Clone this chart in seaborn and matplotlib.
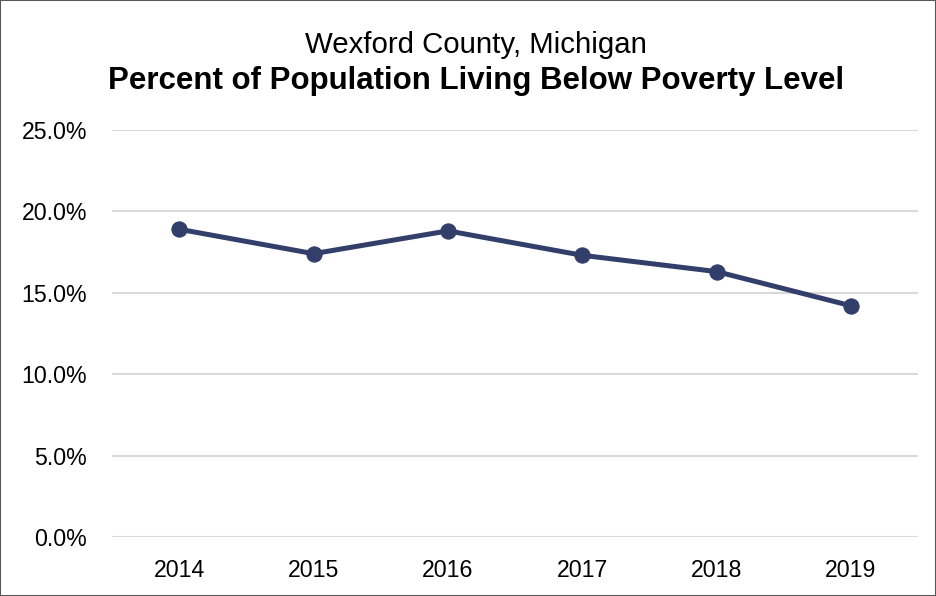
import pandas as pd
import seaborn as sns
from matplotlib import pyplot as plt
from matplotlib.patches import Rectangle
from matplotlib.ticker import PercentFormatter

years = ['2014', '2015', '2016', '2017', '2018', '2019']
poverty = [18.9, 17.4, 18.8, 17.3, 16.3, 14.2]
y_ticks = [0, 5, 10, 15, 20, 25]

df = pd.DataFrame({'year': years, 'poverty': poverty})

sns.set_style('white')
plt.rcParams['font.family'] = ['Liberation Sans', 'DejaVu Sans']
plt.rcParams['text.color'] = 'black'

fig = plt.figure(figsize=(9.36, 5.96), dpi=100)
ax = fig.add_axes([0.1197, 0.099, 0.8613, 0.683])

navy = '#323F6B'
sns.lineplot(data=df, x='year', y='poverty', ax=ax, color=navy, linewidth=3.6,
             marker='o', markersize=11, markeredgecolor=navy, sort=False)

ax.set_ylim(0, 25)
ax.set_xlim(-0.5, 5.5)
ax.set_yticks(y_ticks)
ax.yaxis.set_major_formatter(PercentFormatter(decimals=1))
ax.grid(axis='y', color='#D9D9D9', linewidth=1.5)
ax.set_axisbelow(True)
for s in ax.spines.values():
    s.set_visible(False)
ax.tick_params(axis='both', length=0, labelsize=16.7, colors='black')
ax.tick_params(axis='x', pad=16)
ax.tick_params(axis='y', pad=18)
ax.set_xlabel('')
ax.set_ylabel('')

# titles sit a little right of the figure centre, as in the original
cx = 476 / 936
fig.text(cx, 1 - 45 / 596, 'Wexford County, Michigan', ha='center', va='center',
         fontsize=21.2, color='black')
fig.text(cx, 1 - 81 / 596, 'Percent of Population Living Below Poverty Level',
         ha='center', va='center', fontsize=22.5, fontweight='bold', color='black')

fig.patches.append(Rectangle((0, 0), 1, 1, transform=fig.transFigure, fill=False,
                             edgecolor='#595959', linewidth=1.5))

fig.savefig('out.png', dpi=100)
